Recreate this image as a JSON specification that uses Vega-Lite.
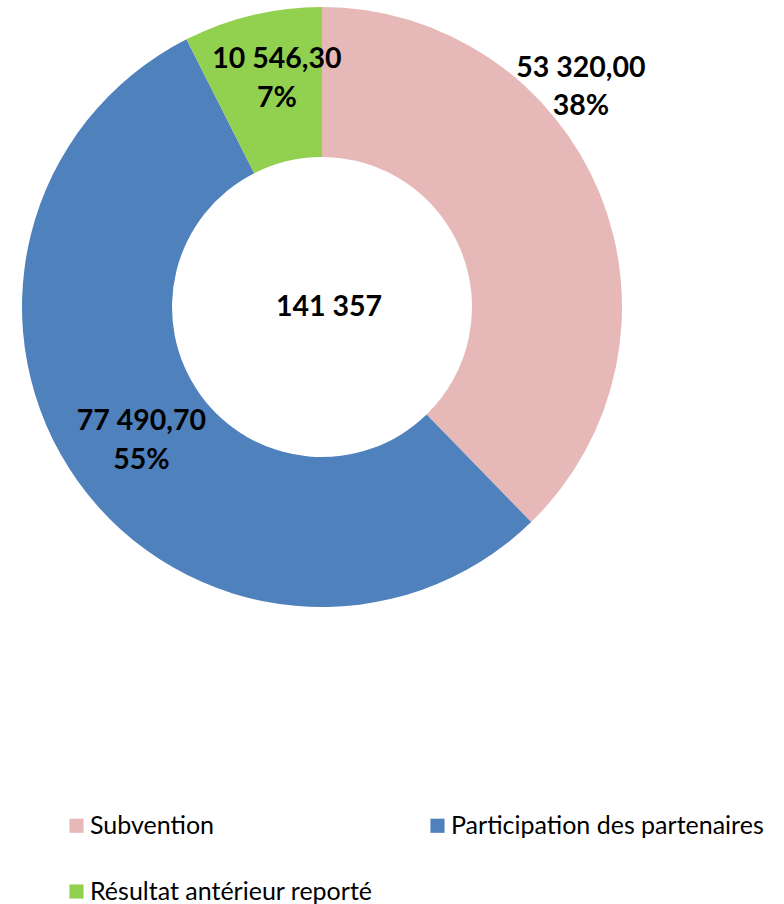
{
  "$schema": "https://vega.github.io/schema/vega-lite/v6.json",
  "width": 644,
  "height": 614,
  "padding": 0,
  "autosize": {"type": "pad"},
  "background": "white",
  "config": {
    "view": {"stroke": null},
    "locale": {"number": {"decimal": ",", "thousands": " ", "grouping": [3], "currency": ["", " €"]}},
    "font": "Lato"
  },
  "data": {
    "values": [
      {"category": "Subvention", "value": 53320.00, "k": 1},
      {"category": "Participation des partenaires", "value": 77490.70, "k": 2},
      {"category": "Résultat antérieur reporté", "value": 10546.30, "k": 3}
    ]
  },
  "transform": [
    {"joinaggregate": [{"op": "sum", "field": "value", "as": "total"}]},
    {"stack": "value", "groupby": [], "sort": [{"field": "k", "order": "ascending"}], "as": ["v0", "v1"]},
    {"calculate": "(datum.v0 + datum.v1) / 2", "as": "mid"},
    {"calculate": "[format(datum.value, ',.2f'), format(datum.value / datum.total, '.0%')]", "as": "label"}
  ],
  "layer": [
    {
      "mark": {"type": "arc", "innerRadius": 150, "outerRadius": 300},
      "encoding": {
        "theta": {"field": "v0", "type": "quantitative", "stack": null, "scale": {"domain": [0, 141357]}},
        "theta2": {"field": "v1"},
        "color": {
          "field": "category",
          "type": "nominal",
          "scale": {
            "domain": ["Subvention", "Participation des partenaires", "Résultat antérieur reporté"],
            "range": ["#E6B9B8", "#4F81BD", "#92D050"]
          },
          "legend": {
            "title": null,
            "orient": "none",
            "legendX": 64,
            "legendY": 813,
            "direction": "horizontal",
            "columns": 2,
            "columnPadding": 52,
            "rowPadding": 40,
            "symbolType": "square",
            "symbolSize": 200,
            "symbolStrokeWidth": 0,
            "symbolOffset": 0,
            "labelFont": "Lato",
            "labelFontSize": 25,
            "labelColor": "black",
            "labelOffset": 1,
            "labelLimit": 400
          }
        }
      }
    },
    {
      "transform": [{"filter": "datum.category !== 'Subvention'"}],
      "mark": {"type": "text", "radius": 233, "fontSize": 28.5, "fontWeight": "bold", "lineHeight": 39, "color": "black", "align": "center", "baseline": "middle", "dx": 9, "dy": -21},
      "encoding": {
        "theta": {"field": "mid", "type": "quantitative", "stack": null},
        "text": {"field": "label"}
      }
    },
    {
      "transform": [{"filter": "datum.category === 'Subvention'"}],
      "mark": {"type": "text", "radius": 300, "fontSize": 28.5, "fontWeight": "bold", "lineHeight": 38, "color": "black", "align": "center", "baseline": "middle", "dx": -19, "dy": -126},
      "encoding": {
        "theta": {"field": "mid", "type": "quantitative", "stack": null},
        "text": {"field": "label"}
      }
    },
    {
      "transform": [{"aggregate": [{"op": "sum", "field": "value", "as": "sum"}]}],
      "mark": {"type": "text", "fontSize": 28.5, "fontWeight": "bold", "color": "black", "align": "center", "baseline": "middle", "dx": 7, "dy": 0},
      "encoding": {
        "text": {"field": "sum", "type": "quantitative", "format": ",.0f"}
      }
    }
  ]
}
